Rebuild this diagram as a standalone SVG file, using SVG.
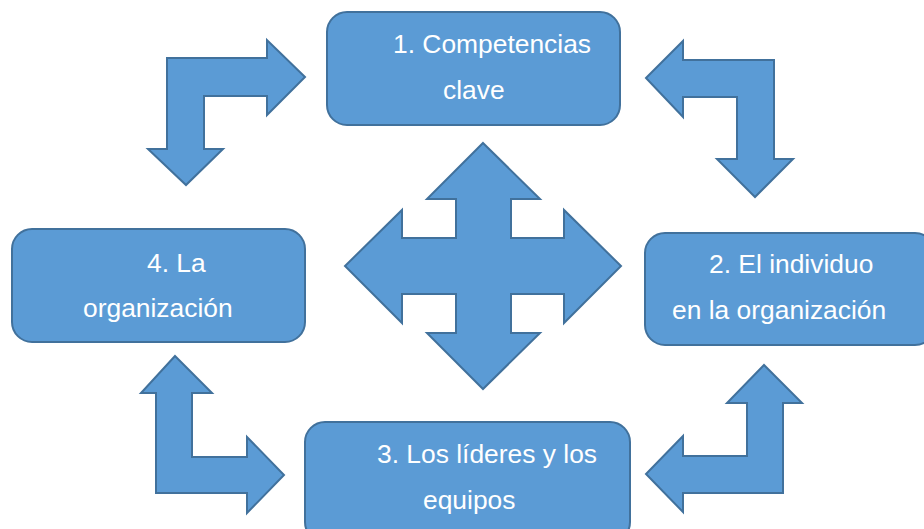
<svg xmlns="http://www.w3.org/2000/svg" width="924" height="529" viewBox="0 0 924 529">
<style>
.shape{fill:#5B9BD5;stroke:#41719C;stroke-width:2;stroke-linejoin:miter}
.lbl{font-family:"Liberation Sans",Arial,sans-serif;font-size:26.4px;fill:#FFFFFF}
</style>
<rect width="924" height="529" fill="#FFFFFF"/>
<g id="connectors">
<polygon class="shape" points="305,77 267,40 267,58 167,58 167,149 148,149 186,185 223,149 204,149 204,96 267,96 267,115"/>
<polygon class="shape" points="646,78 683,41 683,60 774,60 774,159 793,159 755,197 717,159 737,159 737,97 683,97 683,117"/>
<polygon class="shape" points="175,356 141,393 156,393 156,493 247,493 247,513 284,475 247,437 247,457 192,457 192,393 212,393"/>
<polygon class="shape" points="764,365 727,403 747,403 747,456 683,456 683,436 646,474 683,512 683,493 783,493 783,403 802,403"/>
<polygon class="shape" points="483,143 540,199 511,199 511,238 564,238 564,210 621,266 564,323 564,294 511,294 511,333 540,333 483,389 427,333 456,333 456,294 402,294 402,323 345,266 402,210 402,238 456,238 456,199 427,199"/>
</g>
<g id="node1">
<rect class="shape" x="327" y="12" width="293" height="113" rx="20"/>
<text class="lbl" x="393" y="53">1. Competencias</text>
<text class="lbl" x="443" y="99">clave</text>
</g>
<g id="node2">
<rect class="shape" x="645" y="233" width="290" height="112" rx="20"/>
<text class="lbl" x="709" y="273">2. El individuo</text>
<text class="lbl" x="672" y="319">en la organización</text>
</g>
<g id="node3">
<rect class="shape" x="305" y="422" width="325" height="120" rx="20"/>
<text class="lbl" x="377" y="463">3. Los líderes y los</text>
<text class="lbl" x="423" y="509">equipos</text>
</g>
<g id="node4">
<rect class="shape" x="12" y="229" width="293" height="113" rx="20"/>
<text class="lbl" x="147" y="272">4. La</text>
<text class="lbl" x="83" y="317">organización</text>
</g>
</svg>
